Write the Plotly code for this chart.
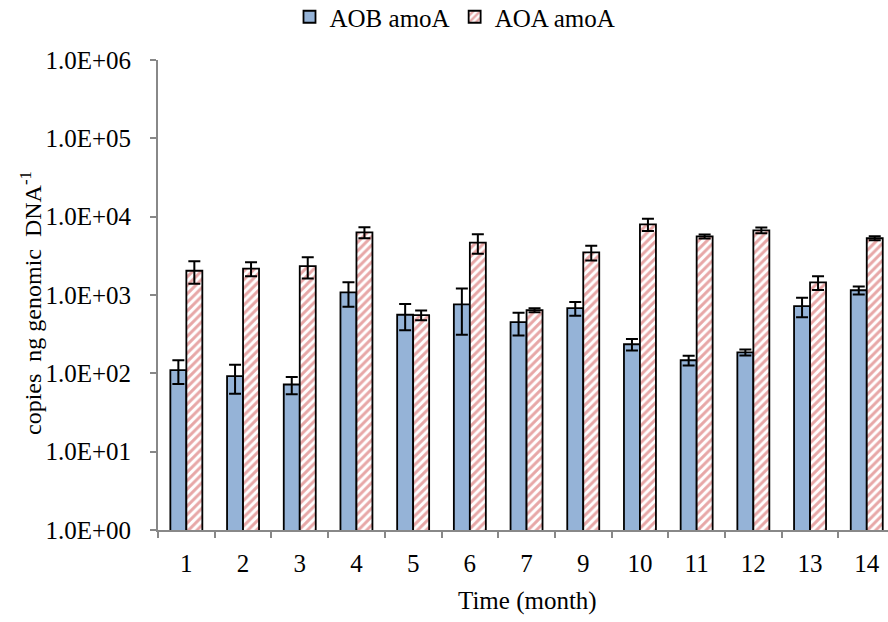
import plotly.graph_objects as go

months = ["1", "2", "3", "4", "5", "6", "7", "9", "10", "11", "12", "13", "14"]
aob = [110, 92, 72, 1080, 560, 760, 450, 680, 235, 147, 185, 720, 1150]
aob_err = [37, 37, 18, 370, 205, 450, 145, 135, 40, 21, 16, 200, 135]
aoa = [2040, 2170, 2330, 6300, 555, 4650, 640, 3500, 7980, 5600, 6700, 1450, 5300]
aoa_err = [650, 440, 700, 1000, 80, 1300, 38, 750, 1400, 330, 570, 290, 310]
ytickvals = [1, 10, 100, 1000, 10000, 100000, 1000000]
yticktext = ["1.0E+00", "1.0E+01", "1.0E+02", "1.0E+03", "1.0E+04", "1.0E+05", "1.0E+06"]

FONT = "Liberation Serif, Times New Roman, serif"
W, H = 888, 622
L, R, T, B = 158, 0, 60, 92
pw = W - L - R
ph = H - T - B

fig = go.Figure()
fig.add_trace(go.Bar(
    x=months, y=aob, name="AOB amoA",
    marker=dict(color="#95B3D7", line=dict(color="black", width=1.8)),
    error_y=dict(type="data", array=aob_err, visible=True, color="black", thickness=2, width=6),
))
fig.add_trace(go.Bar(
    x=months, y=aoa, name="AOA amoA",
    marker=dict(color="white", line=dict(color="black", width=1.8),
                pattern=dict(shape="/", fgcolor="#D05050", bgcolor="white", size=6, solidity=0.5)),
    error_y=dict(type="data", array=aoa_err, visible=True, color="black", thickness=2, width=6),
))

cat_w = 56.7
extra = (L + 13 * cat_w - W) / cat_w

fig.update_layout(
    width=W, height=H,
    margin=dict(l=L, r=R, t=T, b=B, autoexpand=False),
    paper_bgcolor="white", plot_bgcolor="white",
    barmode="group", bargap=0.436, bargroupgap=0,
    font=dict(family=FONT, size=24, color="black"),
    showlegend=True,
    legend=dict(orientation="h", x=(455 - L) / pw, xanchor="center",
                y=1 + (T - 17) / ph, yanchor="middle",
                font=dict(family=FONT, size=25), bgcolor="rgba(0,0,0,0)",
                itemwidth=30, tracegroupgap=0),
    xaxis=dict(type="category", range=[-0.5, 12.5 - extra],
               showline=True, linecolor="#888888", linewidth=2,
               ticks="outside", ticklen=6, tickcolor="#888888", tickwidth=2,
               tickson="boundaries", showgrid=False, zeroline=False,
               tickfont=dict(family=FONT, size=25), ticklabelstandoff=10),
    yaxis=dict(type="log", range=[0, 6],
               tickvals=ytickvals, ticktext=yticktext,
               showline=True, linecolor="#888888", linewidth=2,
               ticks="outside", ticklen=6, tickcolor="#888888", tickwidth=2,
               showgrid=False, zeroline=False,
               tickfont=dict(family=FONT, size=25), ticklabelstandoff=14),
    annotations=[
        dict(text="copies\u00a0\u00a0ng\u00a0genomic\u00a0\u00a0DNA<sup>-1</sup>",
             xref="paper", yref="paper", x=(31 - L) / pw, y=1 - (303 - T) / ph,
             xanchor="center", yanchor="middle", textangle=-90, showarrow=False,
             font=dict(family=FONT, size=24)),
        dict(text="Time (month)", xref="paper", yref="paper",
             x=(527 - L) / pw, y=-(601 - (T + ph)) / ph,
             xanchor="center", yanchor="middle", showarrow=False,
             font=dict(family=FONT, size=25)),
    ],
)

fig.write_html("out.html", config={"displayModeBar": False},
               post_script="document.body.style.margin='0';document.body.style.overflow='hidden';")
